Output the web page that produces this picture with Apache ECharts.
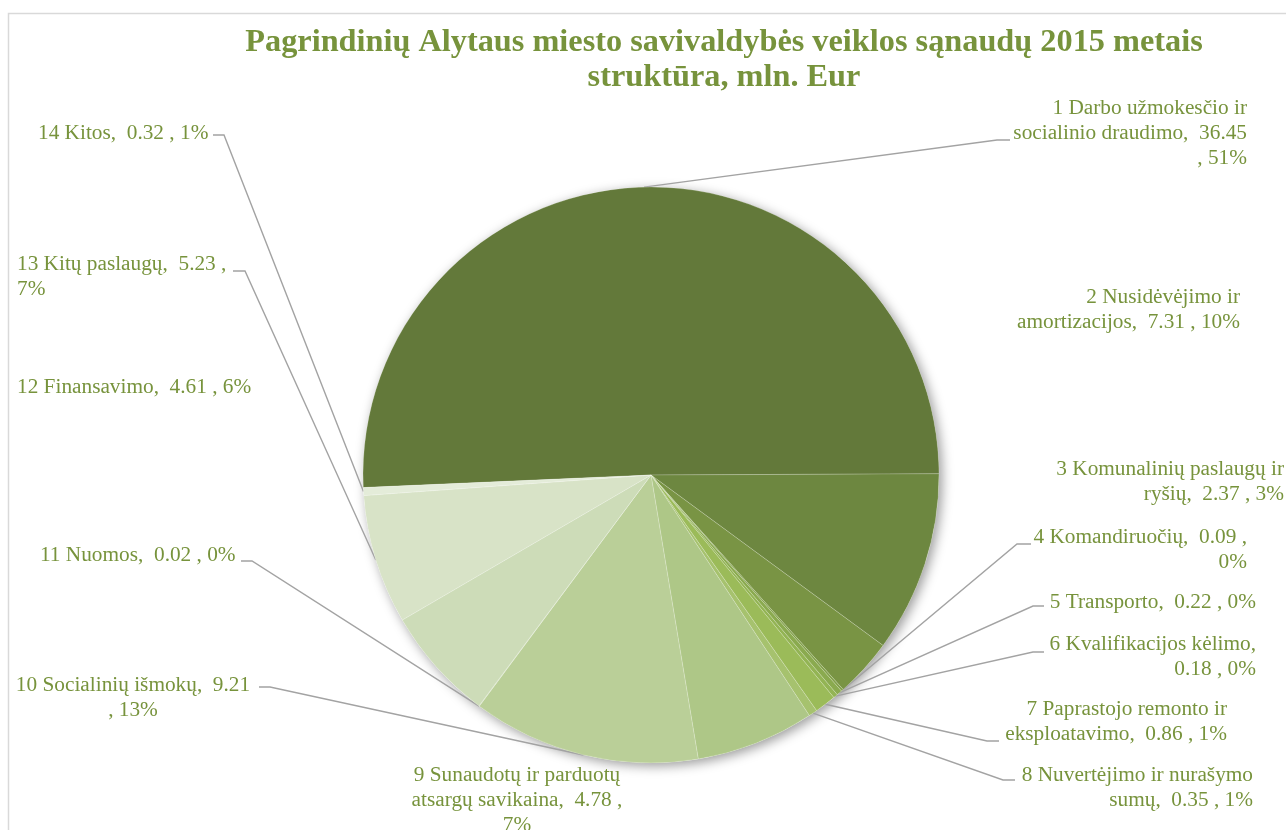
<!DOCTYPE html>
<html>
<head>
<meta charset="utf-8">
<title>Alytaus savivaldybės sąnaudos 2015</title>
<script src="https://cdn.jsdelivr.net/npm/echarts@6/dist/echarts.min.js"></script>
<style>
  html, body { margin: 0; padding: 0; background: #fff; }
  #main { width: 1286px; height: 830px; }
</style>
</head>
<body>
<div id="main"></div>
<script>
// duomenys (mln. Eur)
const categories = [
  '1 Darbo užmokesčio ir socialinio draudimo',
  '2 Nusidėvėjimo ir amortizacijos',
  '3 Komunalinių paslaugų ir ryšių',
  '4 Komandiruočių',
  '5 Transporto',
  '6 Kvalifikacijos kėlimo',
  '7 Paprastojo remonto ir eksploatavimo',
  '8 Nuvertėjimo ir nurašymo sumų',
  '9 Sunaudotų ir parduotų atsargų savikaina',
  '10 Socialinių išmokų',
  '11 Nuomos',
  '12 Finansavimo',
  '13 Kitų paslaugų',
  '14 Kitos'
]
const values = [36.45, 7.31, 2.37, 0.09, 0.22, 0.18, 0.86, 0.35, 4.78, 9.21, 0.02, 4.61, 5.23, 0.32]

const sliceColors = [
  '#63793a', '#6d8740', '#799444', '#82a04a', '#8aaa4f', '#93b454', '#9bbb59',
  '#a6c26e', '#aec787', '#bacf98', '#c4d6a8', '#cddcb8', '#d8e3c7', '#e4ecd9'
]

// where each label text wraps (break after these pieces)
const labelBreaks = [
  ['ir', '36.45'], ['ir'], ['ir'], ['0.09 ,'], [], ['kėlimo,'], ['ir'],
  ['nurašymo'], ['parduotų', '4.78 ,'], ['9.21'], [], [], ['5.23 ,'], []
]

// label placement: x, y, align, line attach x, attach y, elbow x
const labelPlace = [
  [1247, 133, 'right', 1010, 140, 997],
  [1240, 310, 'right'],
  [1284, 482, 'right'],
  [1247, 550, 'right', 1031, 544, 1017],
  [1256, 602, 'right', 1044, 606, 1033],
  [1256, 657, 'right', 1044, 652, 1033],
  [1227, 722, 'right', 999, 741, 987],
  [1253, 788, 'right', 1015, 780, 1003],
  [517, 800, 'center'],
  [133, 698, 'center', 259, 687, 270],
  [40, 555, 'left', 241, 561, 252],
  [17, 387, 'left'],
  [17, 277, 'left', 233, 271, 245],
  [38, 133, 'left', 213, 135, 224]
]

const green = '#77933c'
const serif = '"Times New Roman", "Liberation Serif", serif'
const center = [651, 475]
const radius = 288

function wrapLabel (text, breaks) {
  breaks.forEach(function (tok) {
    const esc = tok.replace(/[.*+?^${}()|[\]\\]/g, '\\$&')
    text = text.replace(new RegExp(esc + '\\s+'), tok + '\n')
  })
  return text
}

const chart = echarts.init(document.getElementById('main'))

const option = {
  animation: false,
  backgroundColor: '#ffffff',
  title: {
    text: 'Pagrindinių Alytaus miesto savivaldybės veiklos sąnaudų 2015 metais\nstruktūra, mln. Eur',
    left: 719,
    top: 20,
    textAlign: 'center',
    textStyle: {
      color: green,
      fontFamily: serif,
      fontWeight: 'bold',
      fontSize: 32.3,
      lineHeight: 35
    }
  },
  graphic: [{
    type: 'rect',
    silent: true,
    shape: { x: 8.5, y: 13.5, width: 1300, height: 900 },
    style: { fill: 'none', stroke: '#d9d9d9', lineWidth: 1.5 }
  }],
  series: [
    {
      // soft shadow under the whole pie
      type: 'pie',
      silent: true,
      center: center,
      radius: radius,
      label: { show: false },
      labelLine: { show: false },
      itemStyle: {
        color: '#ffffff',
        shadowBlur: 12,
        shadowOffsetX: 3,
        shadowOffsetY: 3,
        shadowColor: 'rgba(0,0,0,0.4)'
      },
      data: [{ value: 1, name: '' }],
      z: 1
    },
    {
      type: 'pie',
      center: center,
      radius: radius,
      startAngle: 182.5,
      clockwise: true,
      percentPrecision: 0,
      avoidLabelOverlap: false,
      z: 2,
      itemStyle: {
        borderColor: 'rgba(255,255,255,0.3)',
        borderWidth: 0.6
      },
      label: {
        show: true,
        position: 'outside',
        color: green,
        fontFamily: serif,
        fontSize: 21.3,
        lineHeight: 25,
        formatter: function (p) {
          const txt = p.name + ',  ' + p.value + ' , ' + p.percent + '%'
          return wrapLabel(txt, labelBreaks[p.dataIndex])
        }
      },
      labelLine: {
        show: true,
        lineStyle: { color: '#a3a3a3', width: 1.4 }
      },
      labelLayout: function (p) {
        const pl = labelPlace[p.dataIndex]
        const out = { x: pl[0], y: pl[1], align: pl[2], verticalAlign: 'middle' }
        if (pl[3] != null && p.labelLinePoints) {
          out.labelLinePoints = [p.labelLinePoints[0], [pl[5], pl[4]], [pl[3], pl[4]]]
        }
        return out
      },
      data: categories.map(function (name, i) {
        return {
          name: name,
          value: values[i],
          itemStyle: { color: sliceColors[i] },
          labelLine: { show: labelPlace[i][3] != null }
        }
      })
    }
  ]
}

chart.setOption(option)
</script>
</body>
</html>
